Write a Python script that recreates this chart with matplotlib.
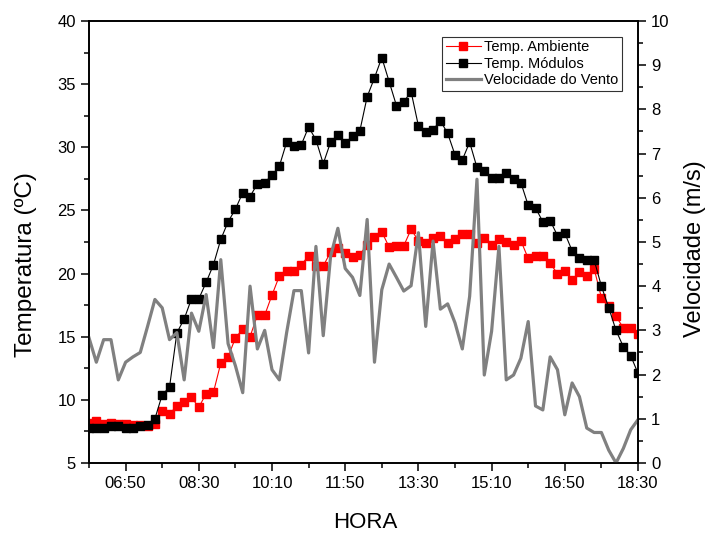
import matplotlib
matplotlib.use("Agg")
import matplotlib.pyplot as plt
from matplotlib.ticker import FixedLocator, MultipleLocator

plt.rcParams["font.family"] = ["Liberation Sans", "DejaVu Sans"]

# medições a cada 10 min, 06:00 - 18:30
hora = [
    "06:00", "06:10", "06:20", "06:30", "06:40", "06:50", "07:00", "07:10", "07:20", "07:30",
    "07:40", "07:50", "08:00", "08:10", "08:20", "08:30", "08:40", "08:50", "09:00", "09:10",
    "09:20", "09:30", "09:40", "09:50", "10:00", "10:10", "10:20", "10:30", "10:40", "10:50",
    "11:00", "11:10", "11:20", "11:30", "11:40", "11:50", "12:00", "12:10", "12:20", "12:30",
    "12:40", "12:50", "13:00", "13:10", "13:20", "13:30", "13:40", "13:50", "14:00", "14:10",
    "14:20", "14:30", "14:40", "14:50", "15:00", "15:10", "15:20", "15:30", "15:40", "15:50",
    "16:00", "16:10", "16:20", "16:30", "16:40", "16:50", "17:00", "17:10", "17:20", "17:30",
    "17:40", "17:50", "18:00", "18:10", "18:20", "18:30",
]

temp_ambiente = [
    8.2, 8.3, 8.1, 8.2, 8.1, 8.1, 8.0, 8.0, 7.9, 8.1,
    9.1, 8.9, 9.5, 9.8, 10.2, 9.4, 10.5, 10.6, 12.9, 13.4,
    14.9, 15.6, 15.0, 16.7, 16.7, 18.3, 19.8, 20.2, 20.2, 20.7,
    21.4, 20.6, 20.6, 21.7, 22.0, 21.6, 21.3, 21.5, 22.3, 22.9,
    23.3, 22.1, 22.2, 22.2, 23.5, 22.6, 22.4, 22.8, 23.0, 22.4,
    22.7, 23.1, 23.1, 22.4, 22.8, 22.3, 22.7, 22.5, 22.3, 22.6,
    21.2, 21.4, 21.4, 20.8, 20.0, 20.2, 19.5, 20.1, 19.8, 20.4,
    18.1, 17.4, 16.6, 15.7, 15.7, 15.2,
]

temp_modulos = [
    7.8, 7.8, 7.8, 7.9, 7.9, 7.8, 7.8, 7.9, 8.0, 8.5,
    10.4, 11.0, 15.3, 16.4, 18.0, 18.0, 19.3, 20.7, 22.7, 24.1,
    25.1, 26.4, 26.1, 27.1, 27.2, 27.8, 28.5, 30.4, 30.1, 30.2,
    31.6, 30.6, 28.7, 30.4, 31.0, 30.3, 30.9, 31.3, 34.0, 35.5,
    37.1, 35.2, 33.3, 33.6, 34.4, 31.7, 31.2, 31.4, 32.1, 31.1,
    29.4, 29.0, 30.4, 28.4, 28.1, 27.6, 27.6, 28.0, 27.5, 27.2,
    25.4, 25.2, 24.1, 24.2, 23.0, 23.2, 21.8, 21.2, 21.1, 21.1,
    19.0, 17.3, 15.5, 14.2, 13.5, 12.1,
]

vel_vento = [
    2.83, 2.28, 2.79, 2.79, 1.88, 2.28, 2.40, 2.50, 3.09, 3.70,
    3.51, 2.79, 2.95, 1.88, 3.39, 2.98, 3.81, 2.61, 4.60, 2.70,
    2.20, 1.59, 4.00, 2.58, 3.00, 2.11, 1.88, 2.95, 3.90, 3.90,
    2.49, 4.90, 2.88, 4.67, 5.31, 4.40, 4.20, 3.79, 5.51, 2.28,
    3.92, 4.50, 4.20, 3.89, 4.01, 5.21, 3.09, 5.02, 3.48, 3.60,
    3.17, 2.58, 3.77, 6.42, 1.99, 2.98, 4.90, 1.88, 1.99, 2.37,
    3.20, 1.29, 1.20, 2.40, 2.11, 1.09, 1.81, 1.50, 0.79, 0.69,
    0.69, 0.29, 0.00, 0.33, 0.75, 0.98,
]

tick_horas = ["06:50", "08:30", "10:10", "11:50", "13:30", "15:10", "16:50", "18:30"]


def to_min(s):
    h, m = s.split(":")
    return int(h) * 60 + int(m)


x = [to_min(h) for h in hora]

fig = plt.figure(figsize=(7.07, 5.34), dpi=100)
ax = fig.add_axes([0.1259, 0.1330, 0.7765, 0.8277])
ax2 = ax.twinx()

l1, = ax.plot(x, temp_ambiente, color="red", lw=0.8, marker="s", ms=6,
              mec="red", mfc="red", label="Temp. Ambiente")
l2, = ax.plot(x, temp_modulos, color="black", lw=0.8, marker="s", ms=6,
              mec="black", mfc="black", label="Temp. Módulos")
l3, = ax2.plot(x, vel_vento, color="#808080", lw=2.3, label="Velocidade do Vento")

ax.set_xlim(to_min("06:00"), to_min("18:30"))
ax.set_ylim(5, 40)
ax2.set_ylim(0, 10)

major_x = [to_min(t) for t in tick_horas]
ax.xaxis.set_major_locator(FixedLocator(major_x))
ax.set_xticklabels(tick_horas)
ax.xaxis.set_minor_locator(FixedLocator([m - 50 for m in major_x]))
ax.yaxis.set_major_locator(MultipleLocator(5))
ax.yaxis.set_minor_locator(MultipleLocator(2.5))
ax2.yaxis.set_major_locator(MultipleLocator(1))
ax2.yaxis.set_minor_locator(MultipleLocator(0.5))

for a in (ax, ax2):
    a.tick_params(which="major", direction="out", length=6, width=1.1, labelsize=12)
    a.tick_params(which="minor", direction="out", length=3.5, width=1.1)
    for sp in a.spines.values():
        sp.set_linewidth(1.2)
ax.tick_params(which="both", top=False, right=False)
ax2.tick_params(which="both", left=False)

ax.set_xlabel("HORA", fontsize=16)
ax.set_ylabel("Temperatura (ºC)", fontsize=17.5)
ax2.set_ylabel("Velocidade (m/s)", fontsize=17)
ax.xaxis.set_label_coords(0.503, -0.111)
ax.yaxis.set_label_coords(-0.095, 0.45)
ax2.yaxis.set_label_coords(1.083, 0.486)

leg = ax2.legend(handles=[l1, l2, l3], loc="upper right",
                 bbox_to_anchor=(0.880, 0.931), bbox_transform=fig.transFigure,
                 fontsize=10.5, frameon=True, fancybox=False, numpoints=1,
                 handlelength=2.4, handletextpad=0.25, labelspacing=0.15,
                 borderpad=0.25, borderaxespad=0)
leg.get_frame().set_edgecolor("black")
leg.get_frame().set_linewidth(0.8)

fig.savefig("out.png", dpi=100)
